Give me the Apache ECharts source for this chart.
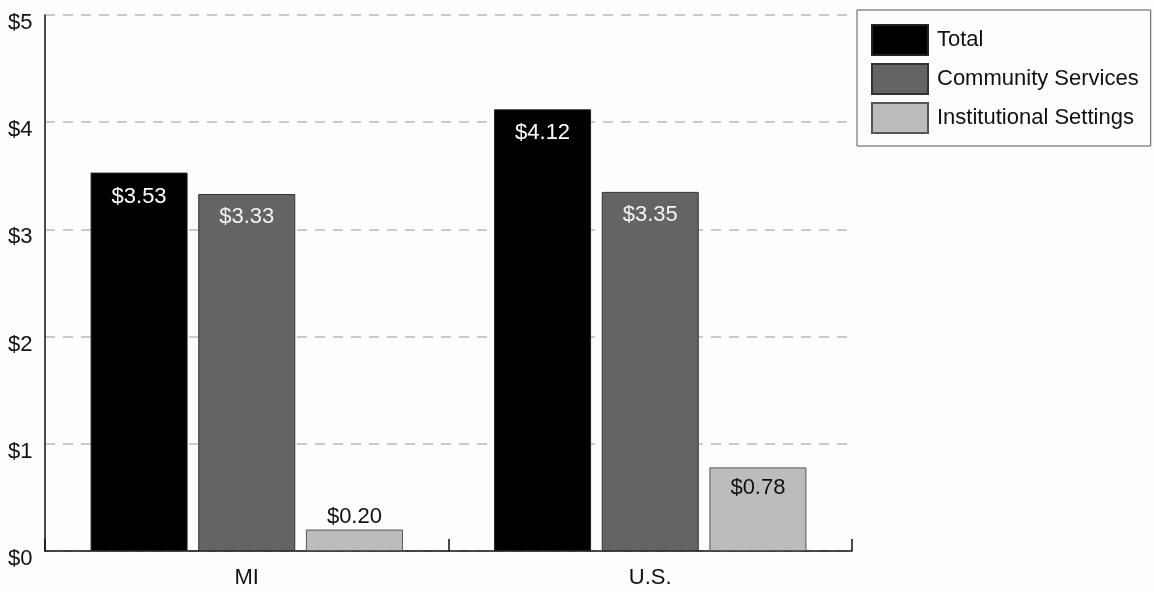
<!DOCTYPE html>
<html>
<head>
<meta charset="utf-8">
<script src="https://cdn.jsdelivr.net/npm/echarts@6/dist/echarts.min.js"></script>
<style>
  html, body { margin: 0; padding: 0; background: #fdfdfd; }
  #chart { width: 1154px; height: 592px; }
</style>
</head>
<body>
<div id="chart"></div>
<script>
// Per-capita spending by setting, in dollars
const categories = ['MI', 'U.S.'];
const totalValues = [3.53, 4.12];
const communityValues = [3.33, 3.35];
const institutionalValues = [0.20, 0.78];
const seriesNames = ['Total', 'Community Services', 'Institutional Settings'];

const FONT = 'Liberation Sans, Arial, sans-serif';
const FS = 22;
const money = v => '$' + v.toFixed(2);

function labelCfg(position, color, distance) {
  return {
    show: true,
    position: position,
    distance: distance,
    color: color,
    fontFamily: FONT,
    fontSize: FS,
    formatter: p => money(p.value)
  };
}

const chart = echarts.init(document.getElementById('chart'), null, { renderer: 'canvas' });
chart.setOption({
  backgroundColor: '#fdfdfd',
  animation: false,
  grid: { left: 45, right: 302, top: 15, bottom: 41, containLabel: false },
  legend: {
    left: 857,
    top: 10,
    orient: 'vertical',
    padding: [14, 12, 12, 14],
    itemWidth: 56,
    itemHeight: 30,
    itemGap: 7,
    borderColor: '#555',
    borderWidth: 1,
    backgroundColor: '#fdfdfd',
    textStyle: { fontFamily: FONT, fontSize: FS, color: '#111', padding: [0, 0, 0, 4] },
    data: seriesNames.map(n => ({ name: n, icon: 'rect' }))
  },
  xAxis: {
    type: 'category',
    data: categories,
    axisLine: { lineStyle: { color: '#111', width: 1.5 } },
    axisTick: { show: true, inside: true, length: 12, lineStyle: { color: '#111', width: 1.5 } },
    axisLabel: { fontFamily: FONT, fontSize: FS, color: '#111', margin: 16 }
  },
  yAxis: {
    type: 'value',
    min: 0,
    max: 5,
    interval: 1,
    axisLine: { show: true, lineStyle: { color: '#111', width: 1.5 } },
    axisTick: { show: false },
    axisLabel: {
      fontFamily: FONT, fontSize: FS, color: '#111',
      align: 'left', verticalAlign: 'top', lineHeight: 16, margin: 37,
      formatter: v => '$' + v
    },
    splitLine: { lineStyle: { color: '#bbb', width: 1.5, type: [10, 8] } }
  },
  series: [
    {
      name: seriesNames[0], type: 'bar', data: totalValues,
      barWidth: 97, barGap: '11%',
      itemStyle: { color: '#000', borderColor: '#222', borderWidth: 1 },
      label: labelCfg('insideTop', '#fff', 13)
    },
    {
      name: seriesNames[1], type: 'bar', data: communityValues,
      barWidth: 97, barGap: '11%',
      itemStyle: { color: '#646464', borderColor: '#333', borderWidth: 1 },
      label: labelCfg('insideTop', '#f4f4f4', 12)
    },
    {
      name: seriesNames[2], type: 'bar', barWidth: 97, barGap: '11%',
      data: institutionalValues.map(v => ({
        value: v,
        label: v < 0.5 ? labelCfg('top', '#111', 2) : labelCfg('insideTop', '#111', 10)
      })),
      itemStyle: { color: '#bcbcbc', borderColor: '#555', borderWidth: 1 }
    }
  ]
});
</script>
</body>
</html>
